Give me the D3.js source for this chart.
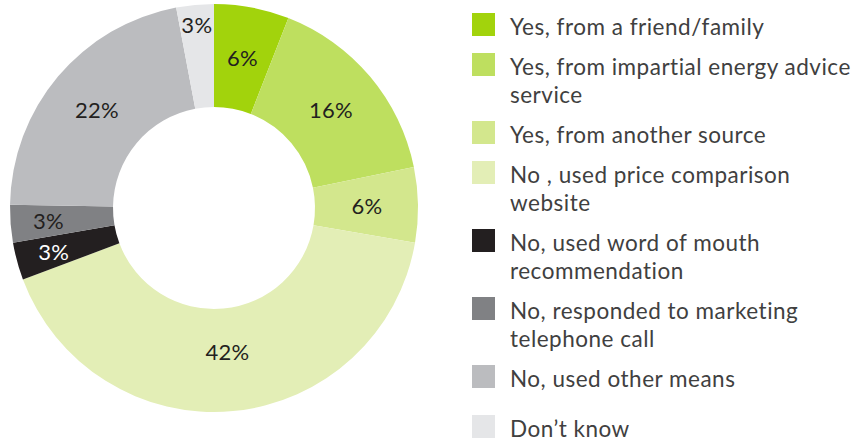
<!DOCTYPE html>
<html>
<head>
<meta charset="utf-8">
<script src="https://cdn.jsdelivr.net/npm/d3@7"></script>
<style>
  html, body { margin: 0; padding: 0; background: #fff; }
  svg { display: block; }
  text { font-family: Lato, "Open Sans", sans-serif; font-weight: 400; }
</style>
</head>
<body>
<svg id="chart" width="863" height="441"></svg>
<script>
// Survey answers: did the respondent get advice before switching supplier?
const categories = [
  "Yes, from a friend/family",
  "Yes, from impartial energy advice\nservice",
  "Yes, from another source",
  "No , used price comparison\nwebsite",
  "No, used word of mouth\nrecommendation",
  "No, responded to marketing\ntelephone call",
  "No, used other means",
  "Don\u2019t know"
];
const values = [6, 16, 6, 42, 3, 3, 22, 3];
const valueLabels = ["6%", "16%", "6%", "42%", "3%", "3%", "22%", "3%"];
const colors = ["#a2d30c", "#bedf5f", "#d3e78d", "#e3eeb6", "#231f20", "#808184", "#bbbcbf", "#e5e6e8"];

const svg = d3.select("#chart");

// ---- donut ----
const cx = 214, cy = 208;
const outerR = 204, innerR = 101;

const pie = d3.pie().sort(null).value(d => d.value);
const rows = categories.map((c, i) => ({ name: c, value: values[i], label: valueLabels[i], color: colors[i] }));
const arcs = pie(rows);

const arc = d3.arc().innerRadius(innerR).outerRadius(outerR);

const g = svg.append("g").attr("transform", `translate(${cx},${cy})`);

g.selectAll("path.slice")
  .data(arcs)
  .join("path")
  .attr("class", "slice")
  .attr("d", arc)
  .attr("fill", d => d.data.color);

// Label radius: thin slices push their label further out so it fits the ring
function labelRadius(d, i) {
  if (i === arcs.length - 1) return 184;
  if (d.data.value < 5) return 166;
  if (d.data.value > 30) return 144;
  return 153;
}

g.selectAll("text.val")
  .data(arcs)
  .join("text")
  .attr("class", "val")
  .attr("x", (d, i) => Math.sin((d.startAngle + d.endAngle) / 2) * labelRadius(d, i))
  .attr("y", (d, i) => -Math.cos((d.startAngle + d.endAngle) / 2) * labelRadius(d, i))
  .attr("text-anchor", "middle")
  .attr("dominant-baseline", "central")
  .attr("font-size", 22)
  .attr("letter-spacing", 0.3)
  .attr("fill", d => d.data.color === "#231f20" ? "#ffffff" : "#231f20")
  .text(d => d.data.label);

// ---- legend ----
const legendX = 472, textX = 510;
const swatch = 23, lineH = 28, itemGap = 40;

let y = 13;
const legendRows = rows.map((r, i) => {
  const lines = r.name.split("\n");
  if (i === rows.length - 1) y += 10;
  const item = { ...r, lines, top: y };
  y += itemGap + lineH * (lines.length - 1);
  return item;
});

const lg = svg.append("g");
const items = lg.selectAll("g.item")
  .data(legendRows)
  .join("g")
  .attr("class", "item")
  .attr("transform", d => `translate(0,${d.top})`);

items.append("rect")
  .attr("x", legendX)
  .attr("y", 0)
  .attr("width", swatch)
  .attr("height", swatch)
  .attr("fill", d => d.color);

items.append("text")
  .attr("x", textX)
  .attr("y", swatch - 1)
  .attr("font-size", 22.5)
  .attr("letter-spacing", 0.5)
  .attr("fill", "#404040")
  .selectAll("tspan")
  .data(d => d.lines)
  .join("tspan")
  .attr("x", textX)
  .attr("dy", (l, j) => j === 0 ? 0 : lineH)
  .text(l => l);
</script>
</body>
</html>
